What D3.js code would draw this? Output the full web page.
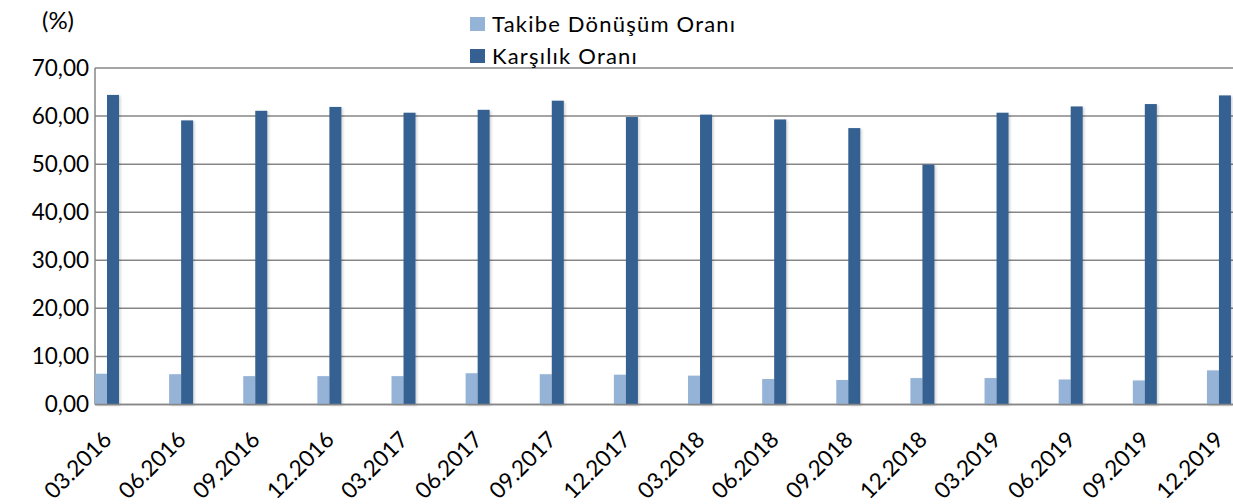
<!DOCTYPE html>
<html><head><meta charset="utf-8">
<script src="https://cdn.jsdelivr.net/npm/d3@7"></script>
<style>
html,body{margin:0;padding:0;background:#fff;}
svg{display:block;font-family:Lato,"Open Sans",sans-serif;}
</style></head>
<body>
<svg id="chart" width="1233" height="504"></svg>
<script>
const categories = ["03.2016","06.2016","09.2016","12.2016","03.2017","06.2017","09.2017","12.2017","03.2018","06.2018","09.2018","12.2018","03.2019","06.2019","09.2019","12.2019"];
const takibe = [6.4,6.3,5.9,5.9,5.9,6.5,6.3,6.2,6.0,5.3,5.1,5.5,5.5,5.2,5.0,7.1];
const karsilik = [64.4,59.1,61.1,61.9,60.7,61.3,63.2,59.8,60.3,59.3,57.5,49.9,60.7,62.0,62.5,64.3];
const seriesNames = ["Takibe Dönüşüm Oranı","Karşılık Oranı"];
const colors = ["#95B3D7","#366092"];
const yTicks = [0,10,20,30,40,50,60,70];

(function(){
const svg = d3.select("#chart");
const defs = svg.append("defs");
const f = defs.append("filter").attr("id","sh").attr("x","-30%").attr("y","-5%").attr("width","160%").attr("height","110%");
f.append("feDropShadow").attr("dx",1.5).attr("dy",1).attr("stdDeviation",1.2).attr("flood-color","#000").attr("flood-opacity",0.18);

const pLeft = 95, pTop = 68, pBottom = 404.5, step = 74.13;
const y = d3.scaleLinear().domain([0,70]).range([pBottom, pTop]);
const x = d3.scaleBand().domain(categories).range([pLeft, pLeft + step*categories.length]).padding(0);
const inner = d3.scaleBand().domain(seriesNames).range([0, 24]).padding(0);

// gridlines
svg.append("g").selectAll("line").data(yTicks).join("line")
  .attr("x1", pLeft).attr("x2", 1233)
  .attr("y1", d => y(d)).attr("y2", d => y(d))
  .attr("stroke", "#868686").attr("stroke-width", 1.5);

// y axis line
svg.append("line").attr("x1", pLeft).attr("x2", pLeft).attr("y1", pTop).attr("y2", pBottom)
  .attr("stroke", "#868686").attr("stroke-width", 1.5);

// y tick labels
const fmt = d => d3.format(".2f")(d).replace(".", ",");
svg.append("g").selectAll("text").data(yTicks).join("text")
  .attr("x", 89).attr("y", d => y(d)).attr("dy", "0.35em")
  .attr("text-anchor", "end").attr("font-size", 22.5).attr("fill", "#000")
  .text(fmt);

svg.append("text").attr("x", 58).attr("y", 21).attr("dy", "0.35em")
  .attr("text-anchor", "middle").attr("font-size", 24).text("(%)");

// bars
const data = categories.map((c, i) => ({c, vals: [takibe[i], karsilik[i]]}));
const groups = svg.append("g").selectAll("g").data(data).join("g")
  .attr("transform", d => `translate(${x(d.c)},0)`);
groups.selectAll("rect").data(d => d.vals.map((v, j) => ({v, s: seriesNames[j], j}))).join("rect")
  .attr("x", d => inner(d.s)).attr("width", inner.bandwidth())
  .attr("y", d => y(d.v)).attr("height", d => y(0) - y(d.v))
  .attr("fill", d => colors[d.j]).attr("filter", "url(#sh)");

// baseline on top
svg.append("line").attr("x1", pLeft).attr("x2", 1233).attr("y1", y(0)).attr("y2", y(0))
  .attr("stroke", "#868686").attr("stroke-width", 1.5);

// x labels
svg.append("g").selectAll("text").data(categories).join("text")
  .attr("transform", d => `translate(${x(d) + 18},441) rotate(-45)`)
  .attr("text-anchor", "end").attr("font-size", 22.5).attr("fill", "#000")
  .text(d => d);

// legend
const leg = svg.append("g");
seriesNames.forEach((n, i) => {
  leg.append("rect").attr("x", 470).attr("y", 17 + i*32).attr("width", 15).attr("height", 14).attr("fill", colors[i]);
  leg.append("text").attr("x", 492).attr("y", 24 + i*32).attr("dy", "0.35em")
    .attr("font-size", 22).attr("letter-spacing", 1.2).text(n);
});
})();
</script>
</body></html>
